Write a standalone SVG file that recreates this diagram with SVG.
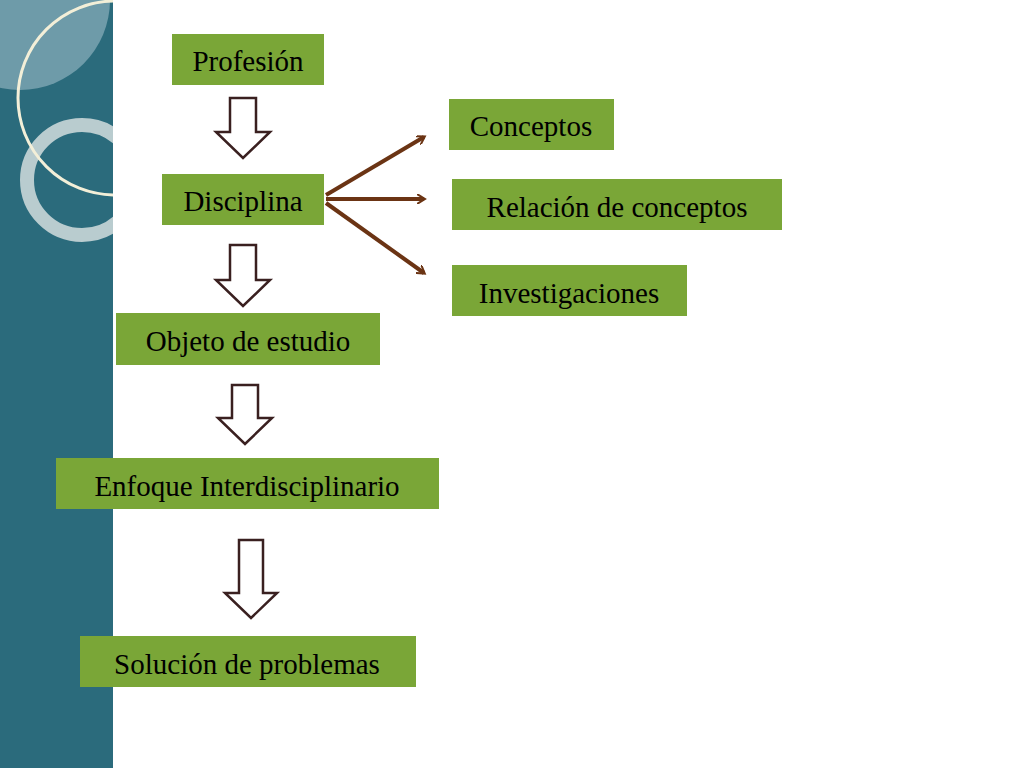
<svg xmlns="http://www.w3.org/2000/svg" width="1024" height="768" viewBox="0 0 1024 768">
<defs>
<style>
.n{fill:#7aa637}
.t{font-family:"Liberation Serif",serif;font-size:29px;fill:#000;text-anchor:middle}
.h{fill:#fff;stroke:#3a2020;stroke-width:2.5;stroke-linejoin:miter}
.c{stroke:#6b3414;stroke-width:4;fill:none}
</style>
<clipPath id="cp"><rect x="0" y="0" width="113" height="768"/></clipPath>
<marker id="ah" markerWidth="10" markerHeight="10" refX="7" refY="5" orient="auto" markerUnits="userSpaceOnUse" viewBox="0 0 10 10"><path d="M0,0 L8,5 L0,10" fill="none" stroke="#6b3414" stroke-width="2"/></marker>
</defs>
<rect width="1024" height="768" fill="#fff"/>
<g clip-path="url(#cp)">
<rect width="113" height="768" fill="#2b6b7c"/>
<circle cx="20" cy="0" r="90" fill="#7fa8b4" opacity="0.8"/>
<circle cx="82" cy="180" r="55" fill="none" stroke="#b9cccf" stroke-width="14"/>
<circle cx="115" cy="98" r="97" fill="none" stroke="#f3efd8" stroke-width="3"/>
</g>
<g id="connectors">
<path class="h" d="M230,98 H256 V132 H270 L243,158 L216,132 H230 Z"/>
<path class="h" d="M230,245 H256 V280 H270 L243,306 L216,280 H230 Z"/>
<path class="h" d="M232,385 H258 V418 H272 L245,444 L218,418 H232 Z"/>
<path class="h" d="M239,540 H263 V593 H277 L251,618 L225,593 H239 Z"/>
<line class="c" x1="326" y1="195" x2="424" y2="137" marker-end="url(#ah)"/>
<line class="c" x1="326" y1="199" x2="424" y2="199" marker-end="url(#ah)"/>
<line class="c" x1="326" y1="203" x2="424" y2="273" marker-end="url(#ah)"/>
</g>
<g id="profesion"><rect class="n" x="172" y="34" width="152" height="51"/><text class="t" x="248" y="71">Profesión</text></g>
<g id="disciplina"><rect class="n" x="162" y="174" width="162" height="51"/><text class="t" x="243" y="211">Disciplina</text></g>
<g id="conceptos"><rect class="n" x="449" y="99" width="165" height="51"/><text class="t" x="531" y="136">Conceptos</text></g>
<g id="relacion"><rect class="n" x="452" y="179" width="330" height="51"/><text class="t" x="617" y="217">Relación de conceptos</text></g>
<g id="investigaciones"><rect class="n" x="452" y="265" width="235" height="51"/><text class="t" x="569" y="303">Investigaciones</text></g>
<g id="objeto"><rect class="n" x="116" y="313" width="264" height="52"/><text class="t" x="248" y="351">Objeto de estudio</text></g>
<g id="enfoque"><rect class="n" x="56" y="458" width="383" height="51"/><text class="t" x="247" y="496">Enfoque Interdisciplinario</text></g>
<g id="solucion"><rect class="n" x="80" y="636" width="336" height="51"/><text class="t" x="247" y="674">Solución de problemas</text></g>
</svg>
